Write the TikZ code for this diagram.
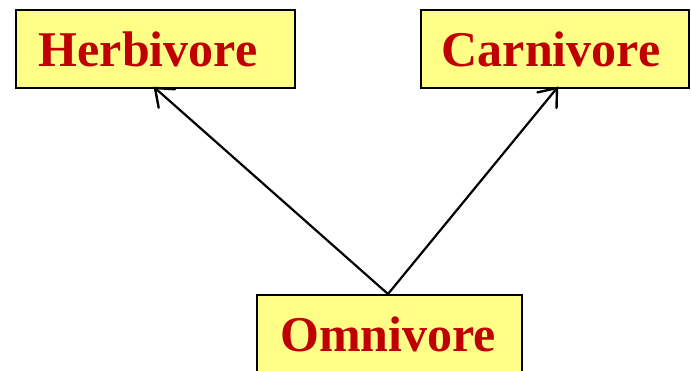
\documentclass[tikz,border=0pt]{standalone}
\usepackage{fontspec}
\setmainfont{Liberation Serif}
\usetikzlibrary{calc}
\definecolor{boxfill}{HTML}{FFFF88}
\definecolor{labelred}{HTML}{C00000}
\begin{document}
\begin{tikzpicture}[
  classbox/.style={draw=black, line width=1.8pt, fill=boxfill, minimum height=78pt, inner sep=0pt, anchor=north west},
  classname/.style={text=labelred, font=\bfseries\fontsize{50}{54}\selectfont, inner sep=0pt},
  link/.style={draw=black, line width=2.2pt},
  barb/.style={draw=black, line width=2.4pt, line cap=round, line join=miter}]
\useasboundingbox (0pt,-370pt) rectangle (691pt,0pt);
\node[classbox, minimum width=279pt] (herb) at (15pt,-9pt) {};
\node[classbox, minimum width=268pt] (carn) at (420pt,-9pt) {};
\node[classbox, minimum width=265pt, minimum height=90pt] (omni) at (256pt,-294pt) {};
\node[classname] (herblabel) at (148pt,-49pt) {Herbivore};
\node[classname] (carnlabel) at (551pt,-49pt) {Carnivore};
\node[classname] (omnilabel) at (388pt,-334pt) {Omnivore};
\coordinate (top) at (388pt,-294pt);
\coordinate (herbfoot) at (155pt,-88pt);
\coordinate (carnfoot) at (557pt,-88pt);
% inheritance links with open barbed heads
\draw[link] (top) -- (herbfoot);
\draw[link] (top) -- (carnfoot);
\draw[barb] ($(herbfoot)!20pt!38:(top)$) -- (herbfoot) -- ($(herbfoot)!20pt!-38:(top)$);
\draw[barb] ($(carnfoot)!20pt!38:(top)$) -- (carnfoot) -- ($(carnfoot)!20pt!-38:(top)$);
\end{tikzpicture}
\end{document}
